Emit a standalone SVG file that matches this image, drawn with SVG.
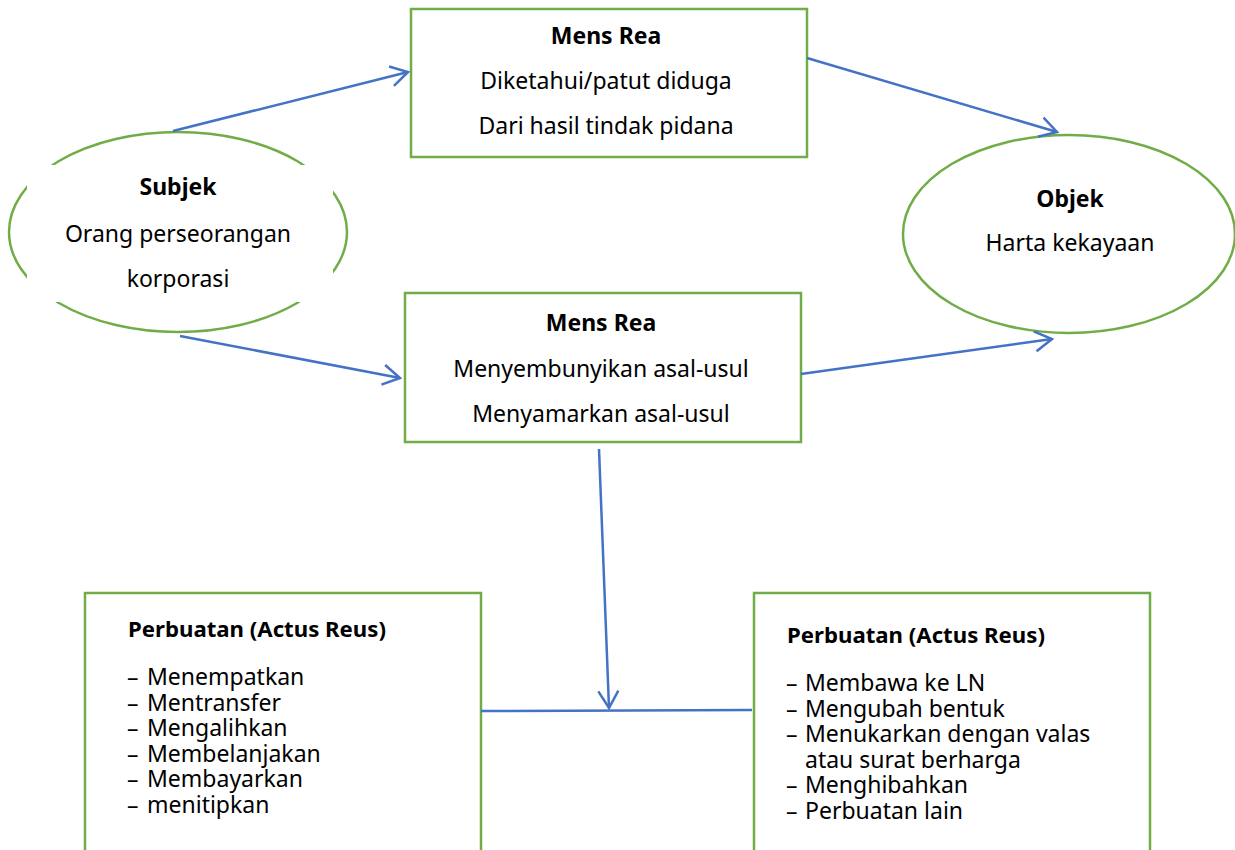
<svg xmlns="http://www.w3.org/2000/svg" width="1235" height="850" viewBox="0 0 1235 850">
<style>
.box{fill:#fff;stroke:#70AD47;stroke-width:2.5}
.ell{fill:#fff;stroke:#70AD47;stroke-width:2.5}
.con{fill:none;stroke:#4472C4;stroke-width:2.5}
text{font-family:"Noto Sans","Open Sans",sans-serif;font-size:23px;fill:#000}
.b{font-weight:bold}
.h{font-weight:bold;font-size:22.2px}
.c{text-anchor:middle}
</style>
<defs>
<marker id="arr" viewBox="-20 -12 22 24" refX="0" refY="0" markerWidth="22" markerHeight="24" markerUnits="userSpaceOnUse" orient="auto">
<path d="M-17,-10 L0,0 L-17,10" fill="none" stroke="#4472C4" stroke-width="2.5"/>
</marker>
</defs>
<rect width="1235" height="850" fill="#fff"/>
<g id="subjek">
<ellipse class="ell" cx="178" cy="232" rx="169" ry="100"/>
<rect x="27" y="165" width="306" height="137" fill="#fff"/>
<text class="c b" x="178" y="195">Subjek</text>
<text class="c" x="178" y="242">Orang perseorangan</text>
<text class="c" x="178" y="287">korporasi</text>
</g>
<g id="mensrea1">
<rect class="box" x="411" y="9" width="396" height="148"/>
<text class="c b" x="606" y="44">Mens Rea</text>
<text class="c" x="606" y="89">Diketahui/patut diduga</text>
<text class="c" x="606" y="134">Dari hasil tindak pidana</text>
</g>
<g id="objek">
<ellipse class="ell" cx="1069" cy="234" rx="166" ry="99"/>
<text class="c b" x="1070" y="207">Objek</text>
<text class="c" x="1070" y="251">Harta kekayaan</text>
</g>
<g id="mensrea2">
<rect class="box" x="405" y="293" width="396" height="149"/>
<text class="c b" x="601" y="331">Mens Rea</text>
<text class="c" x="601" y="377">Menyembunyikan asal-usul</text>
<text class="c" x="601" y="422">Menyamarkan asal-usul</text>
</g>
<g id="perbuatan1">
<rect class="box" x="85" y="593" width="396" height="270"/>
<text class="h" x="128" y="637">Perbuatan (Actus Reus)</text>
<text><tspan x="127" y="685">–</tspan><tspan x="147" y="685">Menempatkan</tspan><tspan x="127" y="710.6">–</tspan><tspan x="147" y="710.6">Mentransfer</tspan><tspan x="127" y="736.2">–</tspan><tspan x="147" y="736.2">Mengalihkan</tspan><tspan x="127" y="761.8">–</tspan><tspan x="147" y="761.8">Membelanjakan</tspan><tspan x="127" y="787.4">–</tspan><tspan x="147" y="787.4">Membayarkan</tspan><tspan x="127" y="813">–</tspan><tspan x="147" y="813">menitipkan</tspan></text>
</g>
<g id="perbuatan2">
<rect class="box" x="754" y="593" width="396" height="270"/>
<text class="h" x="787" y="643">Perbuatan (Actus Reus)</text>
<text><tspan x="786" y="691">–</tspan><tspan x="805" y="691">Membawa ke LN</tspan><tspan x="786" y="716.5">–</tspan><tspan x="805" y="716.5">Mengubah bentuk</tspan><tspan x="786" y="742">–</tspan><tspan x="805" y="742">Menukarkan dengan valas</tspan><tspan x="805" y="767.5">atau surat berharga</tspan><tspan x="786" y="793">–</tspan><tspan x="805" y="793">Menghibahkan</tspan><tspan x="786" y="818.5">–</tspan><tspan x="805" y="818.5">Perbuatan lain</tspan></text>
</g>
<g id="connectors">
<line class="con" x1="173" y1="131" x2="408" y2="72" marker-end="url(#arr)"/>
<line class="con" x1="807" y1="58" x2="1057" y2="132" marker-end="url(#arr)"/>
<line class="con" x1="180" y1="336" x2="400" y2="378" marker-end="url(#arr)"/>
<line class="con" x1="801" y1="374" x2="1052" y2="339" marker-end="url(#arr)"/>
<line class="con" x1="599" y1="449" x2="609" y2="708" marker-end="url(#arr)"/>
<line class="con" x1="481" y1="711" x2="752" y2="710"/>
</g>
</svg>
